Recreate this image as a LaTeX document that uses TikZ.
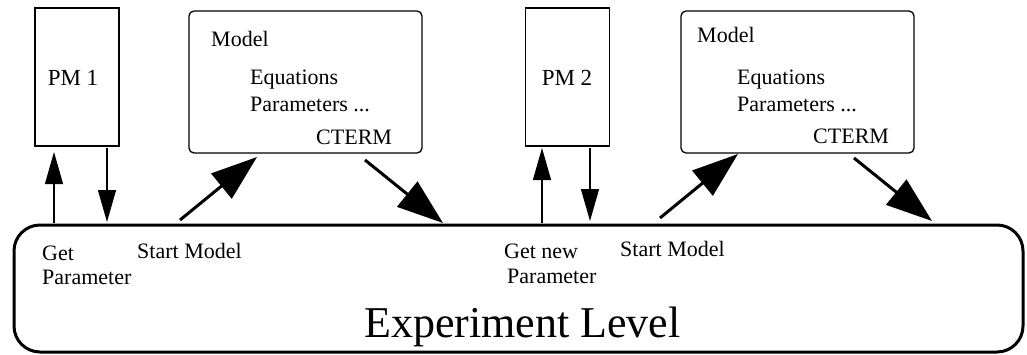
\documentclass[tikz,border=0pt]{standalone}
\usepackage{fontspec}
\setmainfont{Liberation Serif}
\usetikzlibrary{arrows.meta}
\begin{document}
\begin{tikzpicture}[x=1pt,y=-1pt,
  txt/.style={anchor=base west,inner sep=0pt,font=\fontsize{22}{26}\selectfont},
  pmbox/.style={draw,line width=1.3pt,minimum width=84pt,minimum height=138pt,inner sep=0pt},
  modelbox/.style={draw,line width=1.3pt,rounded corners=5pt,minimum width=233pt,minimum height=142pt,inner sep=0pt},
  levelbox/.style={draw,line width=3pt,rounded corners=26pt,minimum width=1009pt,minimum height=127pt,inner sep=0pt},
  thin arrow/.style={line width=1.3pt,-{Triangle[length=32pt,width=18pt]}},
  bold arrow/.style={line width=3pt,-{Triangle[length=46pt,width=32pt]}}]
\useasboundingbox (0,0) rectangle (1027,354);

% boxes
\node[pmbox] (pm1) at (77,77) {};
\node[pmbox] (pm2) at (567.5,77) {};
\node[modelbox] (m1) at (305.5,82) {};
\node[modelbox] (m2) at (797.5,82) {};
\node[levelbox] (exp) at (518.5,288.5) {};

% box contents
\node[txt,anchor=base,font=\fontsize{23}{27}\selectfont] (pm1t) at (73,85) {PM 1};
\node[txt,anchor=base,font=\fontsize{23}{27}\selectfont] (pm2t) at (567,85) {PM 2};

\node[txt] (m1a) at (211,46) {Model};
\node[txt] (m1b) at (250,84) {Equations};
\node[txt] (m1c) at (250,111) {Parameters ...};
\node[txt] (m1d) at (316,144) {CTERM};

\node[txt] (m2a) at (697,42) {Model};
\node[txt] (m2b) at (737,84) {Equations};
\node[txt] (m2c) at (737,111) {Parameters ...};
\node[txt] (m2d) at (813,143) {CTERM};

\node[txt] (g1a) at (42,260) {Get};
\node[txt] (g1b) at (42,284) {Parameter};
\node[txt] (s1) at (137,258) {Start Model};
\node[txt] (g2a) at (504,258) {Get new};
\node[txt] (g2b) at (507,283) {Parameter};
\node[txt] (s2) at (620,256) {Start Model};
\node[anchor=base west,inner sep=0pt,font=\fontsize{44}{50}\selectfont] (lvl) at (364,337) {Experiment Level};

% connector end points
\coordinate (a1s) at (54,223);  \coordinate (a1e) at (54,152);
\coordinate (a2s) at (107,148); \coordinate (a2e) at (107,222);
\coordinate (a3s) at (542,223); \coordinate (a3e) at (542,148);
\coordinate (a4s) at (590,148); \coordinate (a4e) at (590,221);
\coordinate (b1s) at (180,220); \coordinate (b1e) at (257,157);
\coordinate (b2s) at (365,160); \coordinate (b2e) at (443,223);
\coordinate (b3s) at (660,218); \coordinate (b3e) at (738,154);
\coordinate (b4s) at (854,158); \coordinate (b4e) at (932,221);

% parameter requests and replies
\draw[thin arrow] (a1s) -- (a1e);
\draw[thin arrow] (a2s) -- (a2e);
\draw[thin arrow] (a3s) -- (a3e);
\draw[thin arrow] (a4s) -- (a4e);

% model start and termination
\draw[bold arrow] (b1s) -- (b1e);
\draw[bold arrow] (b2s) -- (b2e);
\draw[bold arrow] (b3s) -- (b3e);
\draw[bold arrow] (b4s) -- (b4e);
\end{tikzpicture}
\end{document}
